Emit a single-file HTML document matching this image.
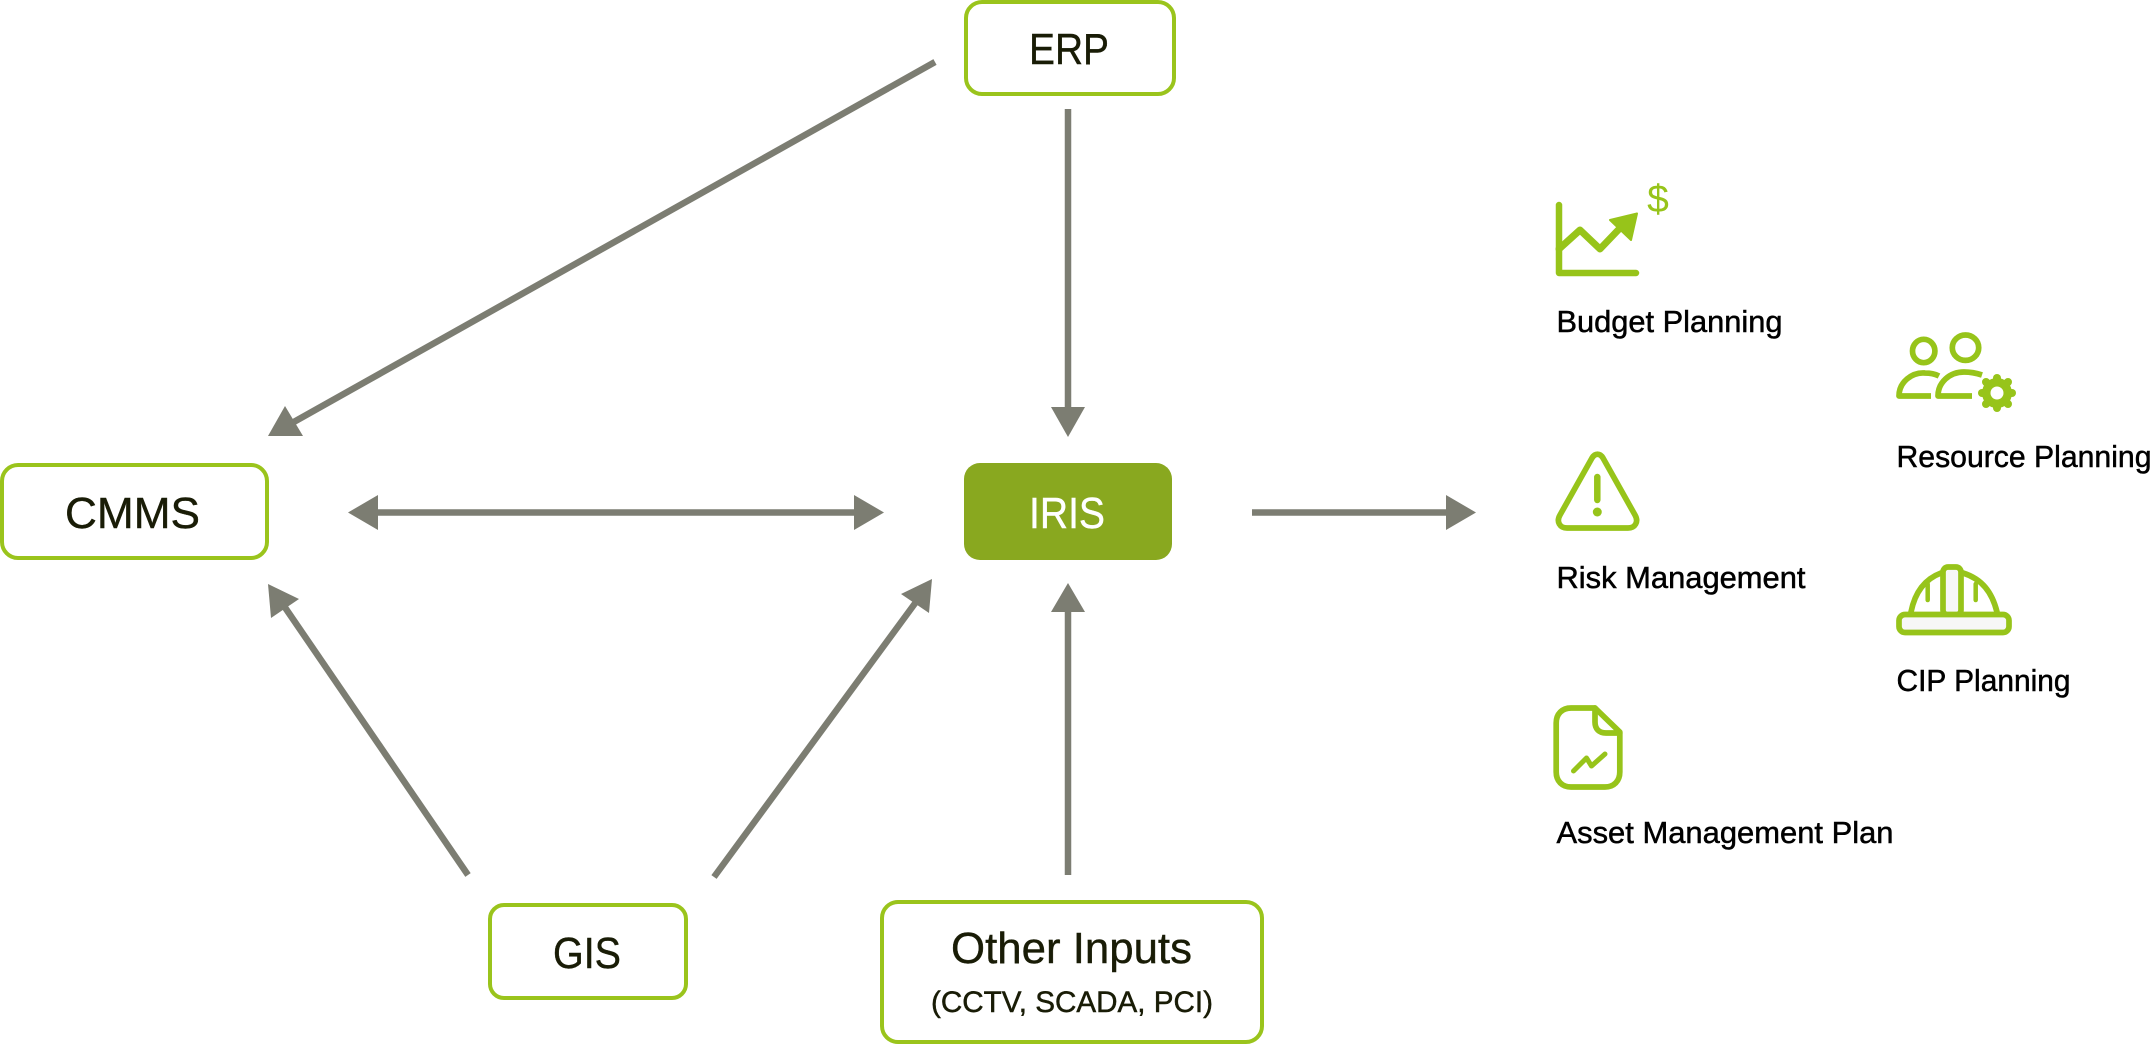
<!DOCTYPE html>
<html>
<head>
<meta charset="utf-8">
<style>
html,body{margin:0;padding:0;background:#fff;width:2156px;height:1044px;overflow:hidden}
svg{display:block}
text{font-family:"Liberation Sans",sans-serif}
.b{fill:#fff;stroke:#9ac41c;stroke-width:4}
.l{stroke:#7c7d72;stroke-width:6.5;fill:none}
.h{fill:#7c7d72}
.t{fill:#191c06;font-size:44px;stroke:#191c06;stroke-width:.4}
.r{fill:#000;font-size:31px;stroke:#000;stroke-width:.5}
.i{fill:none;stroke:#97c41a;stroke-linecap:round;stroke-linejoin:round}
</style>
</head>
<body>
<svg width="2156" height="1044" viewBox="0 0 2156 1044" xmlns="http://www.w3.org/2000/svg">
<!-- connectors -->
<line class="l" x1="935" y1="62" x2="292" y2="423"/>
<polygon class="h" points="268,436 285,406 303,436"/>
<line class="l" x1="1068" y1="109" x2="1068" y2="410"/>
<polygon class="h" points="1051,407 1085,407 1068,437"/>
<line class="l" x1="374" y1="512.500" x2="858" y2="512.500"/>
<polygon class="h" points="348,512.500 378,495 378,530"/>
<polygon class="h" points="884,512.500 854,495 854,530"/>
<line class="l" x1="1252" y1="512.500" x2="1450" y2="512.500"/>
<polygon class="h" points="1476,512.500 1446,495 1446,530"/>
<line class="l" x1="1068" y1="875" x2="1068" y2="608"/>
<polygon class="h" points="1051,612 1085,612 1068,583"/>
<line class="l" x1="468" y1="875" x2="284" y2="606"/>
<polygon class="h" points="268,584 299,599 271,618"/>
<line class="l" x1="714" y1="877" x2="916" y2="602"/>
<polygon class="h" points="932,579 929,613 901,594"/>
<!-- nodes -->
<rect class="b" x="966" y="2" width="208" height="92" rx="16"/>
<text class="t" x="1029" y="64" textLength="80" lengthAdjust="spacingAndGlyphs">ERP</text>
<rect x="964" y="463" width="208" height="97" rx="16" fill="#89a81f"/>
<text class="t" x="1029" y="528" textLength="76" lengthAdjust="spacingAndGlyphs" style="fill:#fff;stroke:#fff">IRIS</text>
<rect class="b" x="2" y="465" width="265" height="93" rx="16"/>
<text class="t" x="65" y="528" textLength="135" lengthAdjust="spacingAndGlyphs">CMMS</text>
<rect class="b" x="490" y="905" width="196" height="93" rx="14"/>
<text class="t" x="553" y="968" textLength="68" lengthAdjust="spacingAndGlyphs">GIS</text>
<rect class="b" x="882" y="902" width="380" height="140" rx="16"/>
<text class="t" x="951" y="963" textLength="241" lengthAdjust="spacingAndGlyphs">Other Inputs</text>
<text class="t" x="931" y="1012" textLength="282" lengthAdjust="spacingAndGlyphs" style="font-size:30px;stroke-width:.5">(CCTV, SCADA, PCI)</text>
<!-- right labels -->
<text class="r" x="1556.500" y="332" textLength="226" lengthAdjust="spacingAndGlyphs">Budget Planning</text>
<text class="r" x="1896.500" y="467" textLength="255" lengthAdjust="spacingAndGlyphs">Resource Planning</text>
<text class="r" x="1556.500" y="588" textLength="249" lengthAdjust="spacingAndGlyphs">Risk Management</text>
<text class="r" x="1896.500" y="691" textLength="174" lengthAdjust="spacingAndGlyphs">CIP Planning</text>
<text class="r" x="1556.500" y="843" textLength="337" lengthAdjust="spacingAndGlyphs">Asset Management Plan</text>
<!-- budget icon -->
<path class="i" stroke-width="6.500" d="M1559 205V273H1636"/>
<path class="i" stroke-width="7" d="M1559 249L1580 230L1600 249L1622 226"/>
<polygon class="i" stroke-width="2" style="fill:#97c41a" points="1637,213.500 1610,220 1631,240"/>
<text x="1658" y="212" font-size="39" text-anchor="middle" fill="#97c41a">$</text>
<!-- resource icon -->
<g class="i" stroke-width="5.700">
<ellipse cx="1923.700" cy="351" rx="11.200" ry="11.700"/>
<ellipse cx="1965.500" cy="347.700" rx="13.200" ry="12.700"/>
<path stroke-linecap="butt" d="M1931 396H1899C1899 382 1912 372 1925 373C1930 373 1935 374 1939 376"/>
<path stroke-linecap="butt" d="M1972 396H1938C1938 382 1950 372 1964 372C1970 372 1976 373 1982 375"/>
</g>
<g fill="#97c41a" stroke="#97c41a">
<circle cx="1997" cy="393" r="14.500"/>
<g stroke-width="8" stroke-linecap="round">
<line x1="1997" y1="379" x2="1997" y2="378"/>
<line x1="1997" y1="407" x2="1997" y2="408"/>
<line x1="1983" y1="393" x2="1982" y2="393"/>
<line x1="2011" y1="393" x2="2012" y2="393"/>
<line x1="1987" y1="383" x2="1986" y2="382"/>
<line x1="2007" y1="383" x2="2008" y2="382"/>
<line x1="1987" y1="403" x2="1986" y2="404"/>
<line x1="2007" y1="403" x2="2008" y2="404"/>
</g>
</g>
<circle cx="1997" cy="393" r="6.500" fill="#fff"/>
<!-- warning icon -->
<path class="i" stroke-width="5.700" d="M1592 458C1595 453 1600 453 1603 458L1635 515C1639 522 1635 528 1628 528H1567C1560 528 1556 522 1560 515Z"/>
<line class="i" stroke-width="6.500" x1="1597.300" y1="477" x2="1597.300" y2="500"/>
<circle cx="1597.300" cy="512" r="4.500" fill="#97c41a"/>
<!-- helmet icon -->
<path class="i" stroke-width="5.700" d="M1911 612C1915 592 1925 579 1941 573M1997 612C1992 592 1982 579 1963 573"/>
<rect x="1943" y="567" width="18" height="48" rx="5" fill="#f7f7f7" stroke="#97c41a" stroke-width="5.700"/>
<line class="i" stroke-width="4.500" x1="1927.700" y1="584" x2="1927.700" y2="600"/>
<line class="i" stroke-width="4.500" x1="1975.700" y1="584" x2="1975.700" y2="600"/>
<rect x="1899" y="614.500" width="110" height="18" rx="6" fill="#f7f7f7" stroke="#97c41a" stroke-width="5.700"/>
<!-- document icon -->
<path class="i" stroke-width="5.700" d="M1595 708H1571C1562 708 1556.200 714 1556.200 723V772C1556.200 781 1562 787 1571 787H1605C1614 787 1619.800 781 1619.800 772V732Z"/>
<path class="i" stroke-width="5.700" d="M1595 708V722C1595 729 1599 733 1606 733H1619.800"/>
<path class="i" stroke-width="5" d="M1573.500 771L1586.500 758L1591.500 766L1605 754"/>
</svg>
</body>
</html>
